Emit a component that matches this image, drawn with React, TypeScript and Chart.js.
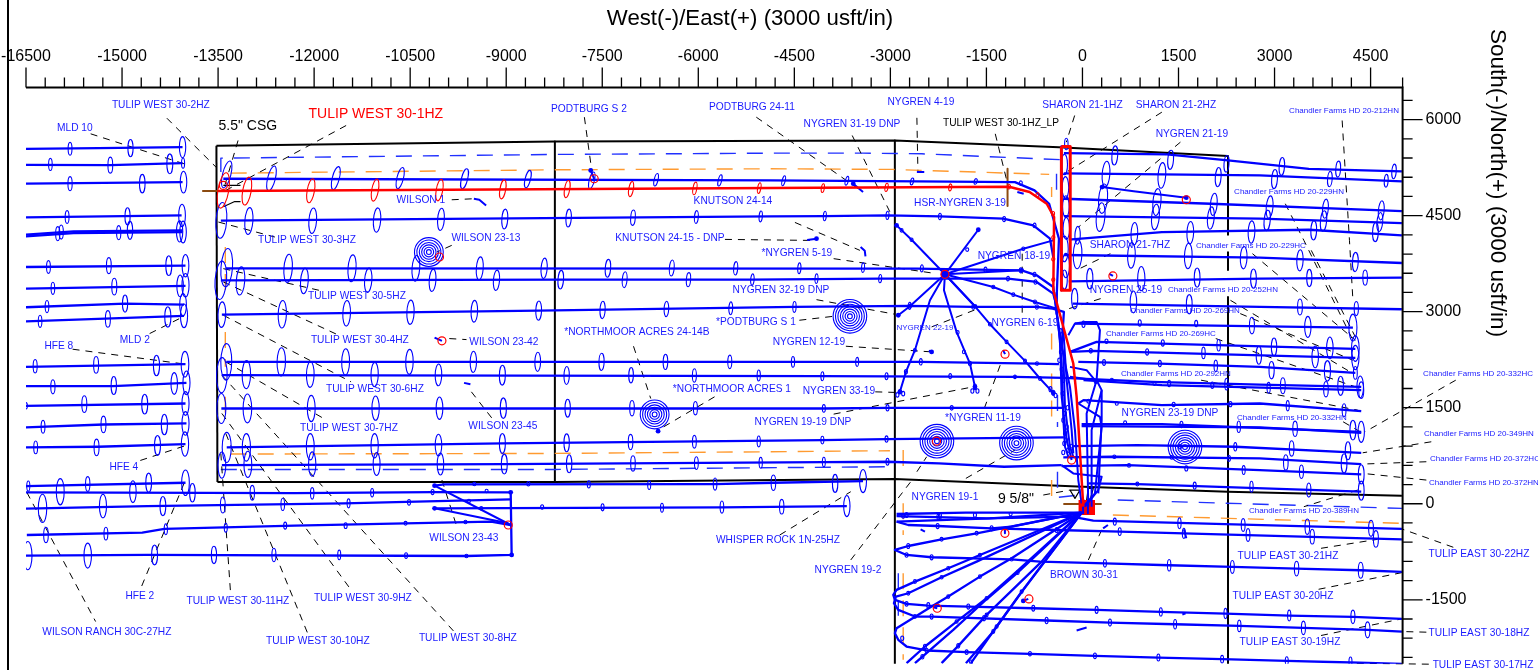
import React, { useEffect, useRef } from "react";
import { Chart, registerables } from "chart.js";
Chart.register(...registerables);

type P = [number, number];
type M = [number, number, number];

const xRange: P = [-16500, 5000];
const yRange: P = [-2500, 6500];
const tickStep = 300;
const labelStep = 1500;
const xTitle = "West(-)/East(+) (3000 usft/in)";
const yTitle = "South(-)/North(+) (3000 usft/in)";

// ---- offset wells west of the section
const mld1Path: P[] = [[-16502,5544],[-15375,5555],[-14055,5570]];
const mld1Marks: M[] = [[-15812,5544,200],[-14868,5554,270],[-14055,5570,330]];
const mld2Path: P[] = [[-16502,5294],[-15183,5289],[-14055,5320]];
const mld2Marks: M[] = [[-16119,5300,190],[-15183,5289,250],[-14254,5310,310],[-14047,5320,160]];
const mld3Path: P[] = [[-16502,5000],[-14055,5024]];
const mld3Marks: M[] = [[-15812,5000,220],[-14684,5000,290],[-14040,5024,340]];
const mld4Path: P[] = [[-16502,4473],[-14070,4504]];
const mld4Marks: M[] = [[-15858,4478,200],[-14914,4488,270],[-14063,4504,350]];
const mld5Path: P[] = [[-16502,4202],[-15758,4254],[-14055,4270]];
const mld5Marks: M[] = [[-15950,4244,220],[-15052,4234,220],[-14101,4254,330]];
const mld6Path: P[] = [[-16502,4176],[-15758,4228],[-14055,4244]];
const mld6Marks: M[] = [[-16004,4218,220],[-14876,4270,280],[-14047,4244,340]];
const mld7Path: P[] = [[-16502,3698],[-14009,3719]];
const mld7Marks: M[] = [[-16149,3698,200],[-15206,3719,250],[-14270,3719,310],[-14009,3719,350]];
const mld8Path: P[] = [[-16502,3360],[-14009,3402]];
const mld8Marks: M[] = [[-16080,3365,190],[-15121,3391,260],[-14093,3402,340],[-14009,3412,370]];
const mld9Path: P[] = [[-16502,3069],[-14953,3126],[-14032,3110]];
const mld9Marks: M[] = [[-16172,3079,190],[-14953,3126,270],[-14047,3110,350]];
const mld10Path: P[] = [[-16502,2850],[-15375,2887],[-14032,2934]];
const mld10Marks: M[] = [[-16280,2850,190],[-15221,2887,260],[-14285,2918,320],[-14032,2934,370]];
const hfe1Path: P[] = [[-16502,2138],[-14009,2180]];
const hfe1Marks: M[] = [[-16357,2148,210],[-15405,2169,260],[-14462,2159,320],[-14017,2180,400]];
const hfe2Path: P[] = [[-16502,1836],[-15144,1836],[-13994,1888]];
const hfe2Marks: M[] = [[-16080,1826,220],[-15129,1847,280],[-14185,1878,340],[-13994,1888,370]];
const hfe3Path: P[] = [[-16502,1530],[-14009,1566]];
const hfe3Marks: M[] = [[-16502,1530,100],[-15589,1556,260],[-14646,1556,310],[-14009,1566,370]];
const hfe4Path: P[] = [[-16502,1192],[-15290,1238],[-13994,1254]];
const hfe4Marks: M[] = [[-16234,1202,200],[-15290,1238,260],[-14339,1238,320],[-14009,1254,370]];
const hfe5Path: P[] = [[-16502,880],[-15375,890],[-14009,932]];
const hfe5Marks: M[] = [[-16349,880,200],[-15398,880,260],[-14446,911,310],[-14017,932,380]];
const hfe6Path: P[] = [[-16502,276],[-14009,328]];
const hfe6Marks: M[] = [[-16464,276,160],[-15536,308,230],[-14584,328,300],[-14009,328,400]];

// ---- section-30 south group and Wilson 23-43 and Whisper Rock
const tw8Path: P[] = [[-16502,178],[-12306,167],[-10150,183],[-8930,178]];
const tw8Marks: M[] = [[-15965,188,410],[-14830,188,340],[-13901,172,290],[-12966,172,230],[-12030,162,180],[-11094,172,130],[-10150,183,80],[-9306,198,40]];
const tw9Path: P[] = [[-16502,-77],[-14607,-36],[-11538,6],[-8930,68]];
const tw9Marks: M[] = [[-16242,-72,440],[-15298,-36,370],[-14362,-36,300],[-13426,-20,250],[-12490,-10,190],[-11462,6,140],[-10518,22,90],[-9582,42,40]];
const tw10Path: P[] = [[-16487,-488],[-14684,-452],[-14339,-394],[-12306,-342],[-9237,-280],[-8930,-332]];
const tw10Marks: M[] = [[-16188,-488,240],[-15252,-467,200],[-14316,-400,170],[-13380,-374,140],[-12452,-342,110],[-11508,-342,90],[-10572,-306,60],[-9636,-285,30]];
const tw11Path: P[] = [[-16502,-810],[-14607,-800],[-9621,-816],[-8915,-800],[-8930,188]];
const tw11Marks: M[] = [[-16472,-810,440],[-15536,-810,390],[-14492,-800,310],[-13564,-800,270],[-12628,-800,210],[-11608,-800,150],[-10564,-810,90],[-9621,-816,30]];
const wilson43A: P[] = [[-8930,-332],[-10119,282]];
const wilson43B: P[] = [[-8968,-306],[-10119,-72]];
const whisperAPath: P[] = [[-10119,282],[-9966,302],[-5738,308],[-4827,328],[-3427,354]];
const whisperAMarks: M[] = [[-9498,308,40],[-8654,313,70],[-7710,302,110],[-6767,292,140],[-5738,308,190],[-4827,328,240],[-3863,318,280],[-3427,354,360]];
const whisperBPath: P[] = [[-10119,-72],[-5631,-56],[-3680,-36]];
const whisperBMarks: M[] = [[-9390,-72,40],[-8439,-51,70],[-7495,-56,110],[-6567,-62,140],[-5631,-51,190],[-4697,-46,230],[-3680,-36,330]];

// ---- subject well
const tw1Path: P[] = [[-13495,4884],[-4879,4930],[-1147,4951],[-826,4868],[-558,4686],[-443,4478],[-455,3334],[-143,2190],[-91,1670],[13,-46]];
const tw1Marks: M[] = [[-13418,4894,560],[-13050,4884,440],[-12052,4889,380],[-11048,4899,350],[-10042,4899,340],[-9053,4910,300],[-8048,4915,270],[-7050,4915,240],[-6053,4925,200],[-5048,4930,170],[-4055,4930,140],[-3060,4941,130],[-2065,4941,110],[-1147,4951,70],[-703,4826,70],[-459,4530,70],[-456,4160,60],[-456,3820,60],[-456,3500,60]];
const sharon1Red: P[] = [[-329,5580],[-191,5580],[-191,3334],[-329,3334],[-329,5580]];
const sharon1Path: P[] = [[-329,5580],[-329,3334]];
const sharon1Marks: M[] = [[-252,5620,180],[-282,5300,320],[-266,4940,340],[-259,4640,340],[-252,4300,340],[-282,3980,400],[-259,3720,380],[-282,3500,300]];

// ---- Tulip West laterals
const tw2Path: P[] = [[-13418,5076],[-4879,5050],[-2586,5034],[-1055,5024],[-749,4894],[-520,4686],[-367,4140],[-400,3300],[-403,2970]];
const tw2Marks: M[] = [[-13365,5144,430],[-12666,5081,400],[-11661,5086,370],[-10656,5086,340],[-9651,5076,320],[-8662,5071,280],[-7664,5050,270],[-6659,5060,200],[-5662,5050,180],[-4667,5045,160],[-3680,5045,140],[-2662,5034,110],[-1668,5034,90],[-964,5008,70]];
const tw3Path: P[] = [[-13457,4421],[-4879,4488],[-4024,4494],[-3045,4504],[-2226,4488],[-1237,4452],[-768,4348],[-507,4140],[-456,3854]];
const tw3Marks: M[] = [[-13449,4426,560],[-13019,4416,420],[-12022,4421,400],[-11017,4431,380],[-10019,4442,350],[-9022,4447,310],[-8025,4462,280],[-7020,4468,240],[-6030,4478,200],[-5025,4488,170],[-4024,4494,150],[-3045,4504,130],[-2226,4488,100],[-1224,4447,80],[-749,4348,70]];
const tw5Path: P[] = [[-13380,3677],[-2586,3672],[-950,3646],[-716,3568],[-456,3386],[-377,2814]];
const tw5Marks: M[] = [[-13365,3688,600],[-12406,3677,440],[-11408,3677,420],[-10411,3677,400],[-9413,3677,360],[-8408,3677,320],[-7411,3677,280],[-6414,3682,250],[-5416,3677,210],[-4422,3677,170],[-3427,3688,150],[-2509,3677,110],[-1515,3656,80],[-964,3646,80],[-749,3580,70]];
const tw4Path: P[] = [[-13457,3490],[-8148,3500],[-5155,3500],[-3159,3516],[-1163,3516],[-716,3464],[-456,3282],[-429,3178]];
const tw4Marks: M[] = [[-13457,3490,600],[-13150,3480,440],[-12152,3480,400],[-11155,3490,380],[-10150,3490,350],[-9152,3490,320],[-8148,3500,290],[-7150,3500,250],[-6153,3500,220],[-5155,3500,180],[-4154,3516,150],[-3159,3516,130],[-1163,3516,70],[-734,3464,70]];
const twCPath: P[] = [[-13441,2954],[-8493,3017],[-4498,3074],[-2700,3090],[-1706,3074],[-711,3074],[-466,3048],[-290,2996],[-325,2450]];
const twCMarks: M[] = [[-13441,2954,400],[-12497,2960,430],[-11492,2975,400],[-10495,2991,380],[-9498,3006,340],[-8493,3017,300],[-7495,3027,270],[-6498,3043,240],[-5493,3053,200],[-4498,3074,170],[-2700,3090,110],[-1706,3074,70],[-711,3074,70]];
const tw6Path: P[] = [[-13372,2216],[-5508,2216],[-2525,2216],[-711,2190],[-367,2180]];
const tw6Marks: M[] = [[-13372,2216,570],[-12513,2216,440],[-11508,2216,410],[-10511,2216,390],[-9513,2216,330],[-8508,2216,300],[-7511,2216,270],[-6513,2216,240],[-5508,2216,210],[-4521,2216,170],[-3519,2216,140],[-2525,2216,100],[-711,2190,40]];
const twEPath: P[] = [[-13441,2008],[-4062,1992],[-1055,1982],[-290,1966]];
const twEMarks: M[] = [[-13441,2008,550],[-13058,2018,440],[-12060,2018,400],[-11055,2018,380],[-10058,2013,340],[-9060,2008,310],[-8056,2003,280],[-7050,2008,240],[-6061,2003,210],[-5056,2003,170],[-4062,1992,140],[-3060,1992,110],[-2065,1992,80],[-1055,1982,40]];
const tw7Path: P[] = [[-13449,1488],[-4039,1488],[-3045,1498],[-1055,1498],[-290,1498]];
const tw7Marks: M[] = [[-13449,1488,470],[-13042,1488,450],[-12045,1488,410],[-11040,1493,380],[-10042,1493,350],[-9045,1493,320],[-8040,1493,280],[-7035,1493,240],[-6045,1493,210],[-4039,1488,120],[-3045,1498,100],[-2042,1498,70]];
const twGPath: P[] = [[-13365,880],[-9060,942],[-4062,994],[-3060,1010],[-290,1036]];
const twGMarks: M[] = [[-13365,880,470],[-13058,880,430],[-12060,890,410],[-11055,906,380],[-10058,916,340],[-9060,942,310],[-8056,952,280],[-7058,963,240],[-6061,968,200],[-5056,973,170],[-4062,994,120],[-3060,1010,100]];
const twHPath: P[] = [[-13441,604],[-9030,620],[-4039,651],[-3045,656],[-2241,630],[-1224,578],[-325,604]];
const twHMarks: M[] = [[-13441,604,410],[-13035,614,410],[-12030,620,380],[-11024,620,360],[-10027,620,340],[-9030,620,310],[-8017,625,280],[-7020,630,240],[-6030,635,200],[-5025,640,170],[-4039,651,150],[-3045,656,110]];

// ---- Chandler Farms and Sharon laterals to the east
const e1Path: P[] = [[-290,5476],[1316,5456],[2273,5362],[3535,5232],[4989,5190]];
const e1Marks: M[] = [[505,5440,300],[1377,5372,300],[2250,5310,260],[3114,5268,280],[3994,5227,250],[4866,5190,230]];
const e2Path: P[] = [[-290,5159],[2770,5128],[4989,5034]];
const e2Marks: M[] = [[368,5149,400],[1240,5128,400],[2120,5102,300],[3000,5071,300],[3864,5071,240],[4744,5045,200]];
const e3Path: P[] = [[-290,4764],[2005,4686],[4989,4572]];
const e3Marks: M[] = [[322,4764,460],[1163,4712,420],[2051,4676,350],[2923,4634,350],[3795,4608,300],[4667,4582,300]];
const e4Path: P[] = [[-290,4494],[2770,4452],[4989,4384]];
const e4Marks: M[] = [[283,4478,450],[1140,4478,400],[2005,4462,350],[2885,4426,320],[3765,4416,320],[4644,4400,300]];
const e5Path: P[] = [[-214,4124],[1240,4244],[3535,4280],[4989,4192]];
const e5Marks: M[] = [[-76,4192,280],[811,4218,350],[1684,4234,350],[2640,4244,350],[3612,4270,300],[4576,4244,300]];
const e6Path: P[] = [[-290,3885],[2770,3844],[4989,3760]];
const e6Marks: M[] = [[-76,3896,450],[765,3880,400],[1653,3870,400],[2518,3844,350],[3397,3802,330],[4262,3776,300]];
const e7Path: P[] = [[-214,3474],[2770,3516],[4989,3532]];
const e7Marks: M[] = [[115,3516,320],[919,3516,380],[1791,3532,300],[2671,3516,300],[3543,3526,270],[4415,3532,240]];
const e8Path: P[] = [[-153,3126],[2770,3074],[4989,3038]];
const e8Marks: M[] = [[-122,3204,320],[796,3152,340],[1668,3116,300],[3397,3074,250],[4277,3048,220]];
const e9Path: P[] = [[-117,2814],[4224,2752]];
const e9Marks: M[] = [[16,2804,100],[895,2824,100],[1776,2814,100],[2647,2783,260],[3520,2762,330],[4224,2752,420]];
const e10Path: P[] = [[-195,2372],[221,2528],[4262,2419]];
const e10Marks: M[] = [[375,2538,70],[1255,2512,100],[2127,2476,180],[2992,2450,280],[3864,2434,340],[4262,2424,400]];
const e11Path: P[] = [[-195,2372],[169,2388],[4262,2278]];
const e11Marks: M[] = [[131,2388,70],[1010,2372,100],[1890,2356,180],[2755,2320,280],[3635,2294,340],[4262,2284,380]];
const e12Path: P[] = [[-65,2216],[1202,2190],[2770,2138],[4262,2044]];
const e12Marks: M[] = [[337,2206,90],[1209,2190,100],[2082,2154,180],[2954,2086,270],[3826,2076,320],[4262,2044,200]];
const e13Path: P[] = [[-290,1966],[1087,1904],[2770,1862],[4354,1826]];
const e13Marks: M[] = [[459,1930,60],[1354,1878,100],[2250,1868,180],[3130,1842,250],[4032,1842,300],[4338,1826,340]];
const e14Path: P[] = [[16,1930],[1240,1852],[4354,1774]];
const e14Marks: M[] = [[207,1904,60],[1125,1878,60],[2028,1852,100],[2908,1810,170],[3803,1790,240],[4354,1774,260]];
const e15Path: P[] = [[-65,1566],[16,1618],[1240,1540],[2770,1566],[4354,1446]];
const e15Marks: M[] = [[92,1602,60],[536,1566,50],[1424,1550,70],[2311,1556,80],[3206,1530,160],[4086,1462,200]];
const e16Path: P[] = [[-13,1244],[1240,1244],[4354,1124]];
const e16Marks: M[] = [[666,1264,60],[1546,1238,100],[2441,1202,180],[3321,1170,240],[4224,1150,310],[4354,1124,330]];
const e16bPath: P[] = [[-13,1212],[2770,1192],[4354,1108]];
const e17Path: P[] = [[-143,900],[857,916],[2387,890],[4354,796]];
const e17Marks: M[] = [[1523,890,70],[2387,890,130],[3267,864,240],[4147,828,280]];
const e18Path: P[] = [[-299,724],[475,734],[2770,708],[4354,620]];
const e18Marks: M[] = [[498,734,50],[1393,724,60],[2288,708,90],[3176,646,240],[4086,630,300]];
const e19Path: P[] = [[-325,588],[704,604],[2770,526],[4354,458]];
const e19Marks: M[] = [[727,599,50],[1622,552,80],[2518,526,140],[3420,500,210],[4354,458,300]];
const e20Path: P[] = [[91,318],[857,308],[4354,188]];
const e20Marks: M[] = [[857,308,60],[1753,282,110],[2640,266,170],[3535,214,220],[4354,204,300]];

// ---- curve-backs into the pad
const bundleWest1: P[] = [[-429,3178],[-351,2554],[-325,1670],[-247,994],[-169,682]];
const bundleWest2: P[] = [[-403,2970],[-299,2346],[-273,1514],[-195,890],[-143,734]];
const bundleWest3: P[] = [[-377,2814],[-325,2190],[-299,1306],[-273,890],[-221,734]];
const bundleWest4: P[] = [[-299,2710],[-247,1930],[-169,1150],[-143,786]];
const bundleWest5: P[] = [[-325,2450],[-195,1826],[-117,1150],[-65,370],[-13,6]];
const bundleEast1: P[] = [[-221,2632],[-117,2814],[39,2840],[221,2840],[273,2710],[221,1930],[65,1410],[91,-46]];
const bundleEast2: P[] = [[143,-46],[143,1150],[300,1774],[221,1930]];
const bundleEast3: P[] = [[247,162],[300,1306],[300,1774]];
const bundleEast4: P[] = [[-325,604],[-143,474],[300,422],[247,214],[39,-46]];
const bundleEast5: P[] = [[-65,1566],[273,1358],[300,1202],[195,162],[13,-46]];
const bundleEast6: P[] = [[-195,2138],[65,2086],[195,1930],[-195,1982]];
const bundleMarks: M[] = [[-336,2372,70],[-362,2242,70],[-299,1930,70],[-310,1722,70],[-273,1410,70],[-299,1306,70],[-258,994,70],[-284,942,70],[-221,838,70],[-325,2100,70],[-273,1100,70],[-232,1500,70],[-340,2700,70],[-300,800,70],[-170,900,60],[-245,1200,70]];

// ---- Tulip East and the section 30 fan south of the pad
const padHub: P = [-13,-140];
const s1Path: P[] = [[-2903,-192],[-1497,-228],[-169,-202],[169,-264],[475,-270],[4989,-394]];
const s1Marks: M[] = [[505,-280,110],[1515,-306,170],[2510,-332,200],[3512,-358,240],[4507,-384,250],[-2800,-190,70],[-2250,-205,90]];
const s2Path: P[] = [[-2903,-280],[-2721,-332],[-2262,-348],[-1419,-384],[-403,-410],[589,-436],[4989,-556]];
const s2Marks: M[] = [[582,-436,120],[1584,-462,160],[2586,-488,200],[3589,-514,230],[4583,-550,260],[-2262,-348,80],[-1419,-384,80],[-403,-410,80]];
const s3Path: P[] = [padHub,[-1653,-462],[-2200,-556],[-2721,-660],[-2929,-722],[-2747,-800],[-2356,-836],[-1106,-868],[-664,-904],[351,-930],[1354,-961],[2341,-987],[3344,-1013],[4346,-1039],[4989,-1065]];
const s3Marks: M[] = [[-2721,-660,80],[-2200,-556,60],[-1653,-462,60],[-2747,-800,70],[-2356,-836,80],[-1106,-868,50],[351,-930,120],[1354,-961,180],[2341,-987,200],[3344,-1013,230],[4346,-1039,250]];
const w1Path: P[] = [padHub,[-1821,-140],[-2903,-160]];
const w1Marks: M[] = [[-2747,-176,80],[-2226,-192,100],[-1679,-176,70],[-1122,-160,50]];
const w2Path: P[] = [padHub,[-1445,-228],[-2903,-280]];
const w2bPath: P[] = [padHub,[-1106,-358],[-1419,-384]];
const s4Path: P[] = [padHub,[-1601,-800],[-2096,-1008],[-2616,-1216],[-2903,-1346],[-2955,-1424],[-2929,-1502],[-2747,-1564],[-2408,-1590],[-1783,-1606],[-768,-1632],[221,-1658],[1224,-1689],[2234,-1715],[3229,-1746],[4224,-1767],[4989,-1798]];
const s4Marks: M[] = [[-2616,-1216,60],[-2096,-1008,50],[-1601,-800,50],[-2747,-1564,70],[-2408,-1590,90],[-1783,-1606,80],[-768,-1632,90],[221,-1658,110],[1224,-1689,130],[2234,-1715,160],[3229,-1746,170],[4224,-1767,210]];
const s5Path: P[] = [padHub,[-1653,-904],[-2200,-1148],[-2721,-1398],[-2913,-1450],[-2945,-1554],[-2877,-1658],[-2616,-1762],[-2356,-1762],[-560,-1824],[430,-1856],[1447,-1882],[2449,-1908],[3451,-1939],[4453,-1970],[4989,-1996]];
const s5Marks: M[] = [[-2721,-1398,60],[-2200,-1148,50],[-2616,-1762,60],[-2356,-1762,80],[-1537,-1788,80],[-560,-1824,100],[430,-1856,110],[1447,-1882,150],[2449,-1908,180],[3451,-1939,210],[4453,-1970,250]];
const s6Path: P[] = [padHub,[-1106,-852],[-1601,-1138],[-2096,-1450],[-2356,-1606],[-2903,-1944],[-2929,-2022],[-2877,-2126],[-2747,-2230],[-2434,-2292],[-1809,-2318],[-820,-2344],[195,-2376],[1186,-2402],[2181,-2428],[3191,-2454],[4186,-2480],[4989,-2500]];
const s6Marks: M[] = [[-1601,-1138,50],[-2096,-1450,50],[-2815,-2100,70],[-2434,-2292,70],[-1809,-2318,70],[-820,-2344,70],[195,-2376,90],[1186,-2402,110],[2181,-2428,120],[3191,-2454,130],[4186,-2464,140]];
const s7Path: P[] = [padHub,[-1028,-1060],[-1497,-1476],[-1966,-1840],[-2460,-2230],[-2747,-2490]];
const s7Marks: M[] = [[-1497,-1476,50],[-1966,-1840,50],[-2460,-2230,70]];
const s7bPath: P[] = [padHub,[-1013,-1076],[-1497,-1492],[-2018,-1970],[-2616,-2490]];
const s7bMarks: M[] = [[-2500,-2390,70],[-1013,-1076,50]];
const s8Path: P[] = [padHub,[-638,-904],[-1497,-1736],[-1940,-2220],[-2200,-2490]];
const s8Marks: M[] = [[-1497,-1736,50],[-1940,-2220,70]];
const s9Path: P[] = [padHub,[-950,-1372],[-1393,-1996],[-1820,-2490]];
const s9Marks: M[] = [[-950,-1372,50],[-1393,-1996,60]];
const s10Path: P[] = [padHub,[-924,-1346],[-1341,-1918],[-1742,-2490]];
const s10Marks: M[] = [[-1341,-1918,50],[-1740,-2470,60]];

// ---- Nygren star, all drilled from one location
const starHub: P = [-2148,3584];
const spokeA: P[] = [starHub,[-2695,3084],[-2877,2944]];
const spokeB: P[] = [starHub,[-2669,4124],[-2903,4348]];
const spokeC: P[] = [starHub,[-1627,4280]];
const spokeD: P[] = [starHub,[-924,3984],[-456,4114]];
const spokeE: P[] = [starHub,[-950,3646]];
const spokeF: P[] = [starHub,[-1679,3084]];
const spokeG: P[] = [starHub,[-1679,3084],[-1445,2804],[-1185,2528],[-898,2232],[-664,1956],[-456,1732]];
const spokeH: P[] = [starHub,[-2163,3334],[-1966,2684],[-1757,2190],[-1679,1826]];
const spokeI: P[] = [starHub,[-2382,3178],[-2617,2398],[-2757,2060],[-2851,1748]];
const spokeJ: P[] = [starHub,[-1393,3386],[-1080,3266],[-742,3152],[-403,3048]];
const spokeMarks: M[] = [[-2695,3084,60],[-2825,4270,50],[-2669,4124,50],[-1950,2674,60],[-1851,2372,60],[-1757,2190,70],[-2757,2060,70],[-2617,2398,50],[-2851,1748,70],[-2800,1720,70],[-2890,1700,70],[-1679,1826,90],[-1640,1760,70],[-1720,1760,70],[-1445,2804,50],[-1185,2528,50],[-898,2232,50],[-664,1956,60],[-500,1790,80],[-456,1732,80],[-420,1690,70],[-1393,3386,50],[-1080,3266,50],[-742,3152,60],[-924,3984,50],[-1800,3970,50]];

// ---- short vertical wells
const wellStubs: P[][] = [
  [[-9505,4764],[-9420,4750],[-9314,4660]],
  [[-10119,2596],[-10004,2544]],
  [[-9659,1888],[-9559,1867]],
  [[-7680,5206],[-7626,5076]],
  [[-3580,5000],[-3427,4868]],
  [[-2586,5180],[-2471,5180]],
  [[-1017,4868],[-918,4842]],
  [[306,4946],[800,4880],[1622,4780]],
  [[-4300,4120],[-4154,4140]],
  [[-3465,4010],[-3400,3950],[-3389,3864]],
  [[476,3558],[420,3590]],
  [[-2400,2390],[-2356,2372]],
  [[-1240,2400],[-1209,2336]],
  [[-1211,-390],[-1211,-462]],
  [[-2528,-400],[-2460,-436]],
  [[-2330,-1616],[-2268,-1632]],
  [[-91,-1980],[65,-1934]],
  [[1584,-400],[1622,-540]],
  [[1560,-1730],[1610,-1710]],
  [[322,-384],[398,-332]],
  [[-924,-1518],[-846,-1486]],
];
const endDots: P[] = [[-2877,2944],[-1679,1826],[-2851,1748],[-456,1732],[-1627,4280],[-2903,4348],[-6628,1134],[-7680,5206],[306,4946],[1622,4780],[-4154,4140],[-3580,5000],[-2356,2372],[-10119,282],[-10119,-72],[-8930,178],[-8915,-800],[-950,3646],[-1679,3084],[-924,-1518]];
const hubDots: P[] = [starHub];
const redRings: P[] = [[-13418,4972],[-7626,5076],[-10042,3854],[-10004,2544],[1622,4748],[475,3558],[-1209,2336],[-1211,-462],[-836,-1486],[-2268,-1632],[-8968,-332],[-169,682],[-2148,3584],[-2280,978]];

// ---- concentric spirals of vertical wells
const spiral1: P = [-10208,3931];
const spiral2: P = [-6682,1395];
const spiral3: P = [-3632,2928];
const spiral4: P = [-2273,978];
const spiral5: P = [-1031,947];
const spiral6: P = [1601,885];
const spirals: [P, number][] = [[spiral1,6],[spiral2,6],[spiral3,7],[spiral4,7],[spiral5,7],[spiral6,7]];

// ---- lease lines and hard lines
const leaseTop: P[] = [[-13526,5591],[-8240,5658],[-2930,5674],[-367,5570],[2273,5430]];
const leaseBottom: P[] = [[-13510,339],[-8240,339],[-2930,386],[16,266],[2273,188],[4989,126]];
const sectionLines: P[][] = [
  [[-13526,5591],[-13510,339]],
  [[-8240,5658],[-8240,339]],
  [[-2930,5674],[-2930,-2500]],
  [[2273,5430],[2273,4200]],
  [[2273,3930],[2273,3650]],
  [[2273,3230],[2273,-2500]],
];
const blueHard: P[][] = [
  [[-13457,5180],[-13457,5398],[-8240,5456],[-4879,5476],[-3427,5476],[-2509,5466],[-290,5372]],
  [[-13457,536],[-8240,536],[-2968,578]],
  [[551,58],[4989,-72]],
  [[-405,5154],[-405,4894]],
  [[-2876,-1086],[-2876,-1750]],
  [[-390,1700],[-390,1200]],
  [[-390,500],[-390,100],[-100,130]],
];
const orangeHard: P[][] = [
  [[-13303,5164],[-8240,5216],[-4879,5232],[-2968,5222],[-520,5144]],
  [[-13387,4010],[-13387,3282]],
  [[-13387,2684],[-13387,2138]],
  [[-13387,1670],[-13387,1410]],
  [[-13303,776],[-8240,786],[-4881,812],[-3007,828]],
  [[-2800,838],[-2800,474]],
  [[-482,2658],[-482,2294]],
  [[-482,2034],[-482,1358]],
  [[-482,370],[-482,32]],
  [[-482,4946],[-482,4790]],
  [[475,-176],[4989,-306]],
  [[-2800,6],[-2800,-488]],
  [[-2800,-1086],[-2800,-2438]],
];
const brownLines: P[][] = [
  [[-13748,4884],[-13303,4884]],
  [[-1170,5232],[-1170,4650]],
  [[-299,-4],[300,-4]],
  [[16,58],[16,-98]],
];
const padBlock: P[] = [[-61,-59],[196,-59]];
const padBlue: P[][] = [[[10,60],[10,-150]],[[85,60],[85,-150]]];
const calloutMarks: P[][] = [
  [[-13418,4972],[-13150,4972]],
  [[-13418,4640],[-13240,4720],[-13150,4720]],
  [[-195,214],[-117,84],[-39,214],[-195,214]],
  [[65,58],[91,240],[169,240],[91,-46]],
];
const leaders: P[][] = [
  [[-14300,6022],[-13533,5258]],[[-15490,5778],[-14032,5310]],[[-13188,5674],[-13418,4894]],[[-11500,5908],[-13380,4894]],
  [[-7779,6038],[-7664,5206]],[[-5094,6038],[-3466,4894]],[[-3596,5752],[-2968,4478]],[[-2586,6028],[-2570,5206]],
  [[-1362,5778],[-1170,5000]],[[-122,6064],[-252,5648]],[[1240,6116],[-290,5154]],[[1530,5648],[-61,4322]],
  [[4056,5986],[4170,4114],[4224,3178]],[[3168,4686],[3458,4114],[4224,2554]],[[-9851,4748],[-9505,4764]],
  [[-13495,4400],[-12613,4166]],[[-9851,4036],[-10081,3932]],[[-4491,4394],[-3476,3958]],[[-5584,4129],[-4225,4113]],
  [[-3886,3828],[-2280,3594]],[[-13418,3672],[-11922,3334]],[[-13418,3464],[-11615,2632]],[[-13418,2944],[-11423,1904]],
  [[-13380,2216],[-11807,1306]],[[-13441,2008],[-9812,-2000]],[[-13441,1410],[-11423,-1346]],[[-13380,1098],[-12091,-2048]],
  [[-13457,786],[-13303,-1424]],[[-16487,178],[-15413,-1840]],[[-14032,318],[-14707,-1320]],[[-14032,900],[-14776,656]],
  [[-15773,2414],[-14009,2180]],[[-14569,2658],[-14032,2928]],[[-9889,2580],[-9620,2564]],[[-9544,1748],[-9199,1306]],
  [[-10004,370],[-9758,-400]],[[-7012,2460],[-6743,1644]],[[-5746,1670],[-6628,1150]],[[-4422,2866],[-3886,2928]],
  [[-4154,3188],[-2930,2960]],[[-3695,2460],[-2356,2372]],[[-3236,1748],[-2892,1738]],[[-3886,1400],[-1706,1826]],
  [[-2356,2762],[-1629,3048]],[[-941,3906],[-941,2918]],[[436,3906],[-99,3646]],[[284,3204],[-290,3022]],
  [[-1285,2164],[-1553,1436]],[[2655,3906],[4262,2554]],[[3573,3958],[4262,2606]],[[2311,3178],[4224,2034]],
  [[2464,2970],[4224,2242]],[[2082,2580],[4262,1826]],[[1852,1930],[4300,1462]],[[4071,1280],[4338,1124]],
  [[5830,1930],[4415,1124]],[[5448,968],[4377,796]],[[5371,656],[4377,620]],[[5371,370],[4377,474]],
  [[4300,214],[3458,-46]],[[5792,-680],[4989,-394]],[[3726,-696],[4606,-556]],[[3688,-1336],[4989,-1076]],
  [[3726,-2058],[4989,-1798]],[[5371,-2006],[4989,-1996]],[[5409,-2506],[4224,-2490]],[[-4728,-488],[-3619,188]],
  [[-3619,-878],[-2662,370]],[[-2586,500],[-2433,734]],[[-1821,396],[-1055,838]],[[92,-878],[322,-358]],
  [[-612,136],[-195,214]],
];

// ---- well names
const wellLabels: [string, number, number][] = [
  ["TULIP WEST 30-2HZ",-14394,6220],["MLD 10",-15737,5861],["MLD 2",-14800,2554],["HFE 8",-15987,2460],["HFE 4",-14972,573],
  ["HFE 2",-14722,-1440],["WILSON RANCH 30C-27HZ",-15237,-2001],["TULIP WEST 30-11HZ",-13191,-1518],["TULIP WEST 30-10HZ",-11941,-2142],
  ["TULIP WEST 30-9HZ",-11239,-1471],["TULIP WEST 30-8HZ",-9599,-2095],["PODTBURG S 2",-7708,6157],["PODTBURG 24-11",-5162,6188],
  ["NYGREN 4-19",-2523,6267],["NYGREN 31-19 DNP",-3600,5923],["SHARON 21-1HZ",0,6224],["SHARON 21-2HZ",1460,6224],["NYGREN 21-19",1710,5767],
  ["WILSON 1",-10333,4738],["HSR-NYGREN 3-19",-1913,4691],["KNUTSON 24-14",-5459,4722],["TULIP WEST 30-3HZ",-12113,4114],["WILSON 23-13",-9317,4145],
  ["KNUTSON 24-15 - DNP",-6443,4145],["*NYGREN 5-19",-4460,3911],["SHARON 21-7HZ",742,4036],["NYGREN 18-19",-1070,3872],["TULIP WEST 30-5HZ",-11332,3240],
  ["NYGREN 32-19 DNP",-4709,3334],["NYGREN 25-19",679,3334],["*PODTBURG S 1",-5100,2835],["NYGREN 6-19",-898,2819],["*NORTHMOOR ACRES 24-14B",-6959,2679],
  ["TULIP WEST 30-4HZ",-11286,2554],["WILSON 23-42",-9036,2523],["NYGREN 12-19",-4272,2523],["TULIP WEST 30-6HZ",-11051,1789],["*NORTHMOOR ACRES 1",-5475,1789],
  ["NYGREN 33-19",-3803,1758],["TULIP WEST 30-7HZ",-11457,1181],["WILSON 23-45",-9052,1212],["NYGREN 19-19 DNP",-4366,1274],["NYGREN 23-19 DNP",1367,1415],
  ["*NYGREN 11-19",-1554,1337],["WHISPER ROCK 1N-25HZ",-4756,-566],["WILSON 23-43",-9661,-535],["NYGREN 19-1",-2148,105],["TULIP EAST 30-22HZ",6193,-785],
  ["TULIP EAST 30-21HZ",3210,-816],["NYGREN 19-2",-3663,-1034],["BROWN 30-31",23,-1112],["TULIP EAST 30-20HZ",3132,-1440],["TULIP EAST 30-18HZ",6193,-2017],
  ["TULIP EAST 30-19HZ",3241,-2157],["TULIP EAST 30-17HZ",6256,-2516],
];
const chandlerLabels: [string, number, number][] = [
  ["Chandler Farms HD 20-212HN",4085,6142],["Chandler Farms HD 20-229HN",3226,4878],["Chandler Farms HD 20-229HC",2632,4036],["Chandler Farms HD 20-252HN",2195,3349],
  ["Chandler Farms HD 20-269HN",1601,3006],["Chandler Farms HD 20-269HC",1226,2647],["Chandler Farms HD 20-292HN",1460,2023],["Chandler Farms HD 20-332HC",6178,2023],
  ["Chandler Farms HD 20-332HN",3272,1337],["Chandler Farms HD 20-349HN",6193,1087],["Chandler Farms HD 20-372HC",6287,697],["Chandler Farms HD 20-372HN",6271,323],
  ["Chandler Farms HD 20-389HN",3460,-114],["NYGREN 22-19",-2460,2741],
];
const subjectLabels: [string, number, number][] = [["TULIP WEST 30-1HZ",-11036,6079]];
const blackLabels: [string, number, number][] = [["5.5\" CSG",-13035,5892],["9 5/8\"",-1039,73]];
const smallBlackLabels: [string, number, number][] = [["TULIP WEST 30-1HZ_LP",-1273,5939]];

const BLUE = "#0000ff";
const RED = "#ff0000";
const FONT = '"Liberation Sans", Arial, sans-serif';

const blueWells: [P[], M[], number][] = [
  [mld1Path,mld1Marks,0],[mld2Path,mld2Marks,0],[mld3Path,mld3Marks,0],[mld4Path,mld4Marks,0],[mld5Path,mld5Marks,0],[mld6Path,mld6Marks,0],
  [mld7Path,mld7Marks,0],[mld8Path,mld8Marks,0],[mld9Path,mld9Marks,0],[mld10Path,mld10Marks,0],[hfe1Path,hfe1Marks,0],[hfe2Path,hfe2Marks,0],
  [hfe3Path,hfe3Marks,0],[hfe4Path,hfe4Marks,0],[hfe5Path,hfe5Marks,0],[hfe6Path,hfe6Marks,0],[tw8Path,tw8Marks,0],[tw9Path,tw9Marks,0],
  [tw10Path,tw10Marks,0],[tw11Path,tw11Marks,0],[whisperAPath,whisperAMarks,0],[whisperBPath,whisperBMarks,0],[sharon1Path,sharon1Marks,0],
  [tw2Path,tw2Marks,14],[tw3Path,tw3Marks,4],[tw5Path,tw5Marks,4],[tw4Path,tw4Marks,4],[twCPath,twCMarks,2],[tw6Path,tw6Marks,1],[twEPath,twEMarks,1],
  [tw7Path,tw7Marks,0],[twGPath,twGMarks,0],[twHPath,twHMarks,0],[e1Path,e1Marks,4],[e2Path,e2Marks,4],[e3Path,e3Marks,5],[e4Path,e4Marks,5],
  [e5Path,e5Marks,2],[e6Path,e6Marks,2],[e7Path,e7Marks,0],[e8Path,e8Marks,0],[e9Path,e9Marks,0],[e10Path,e10Marks,0],[e11Path,e11Marks,0],
  [e12Path,e12Marks,0],[e13Path,e13Marks,0],[e14Path,e14Marks,0],[e15Path,e15Marks,0],[e16Path,e16Marks,0],[e16bPath,[],0],[e17Path,e17Marks,0],
  [e18Path,e18Marks,0],[e19Path,e19Marks,0],[e20Path,e20Marks,0],[s1Path,s1Marks,0],[s2Path,s2Marks,0],[s3Path,s3Marks,0],[w1Path,w1Marks,0],
  [w2Path,[],0],[w2bPath,[],0],[s4Path,s4Marks,0],[s5Path,s5Marks,0],[s6Path,s6Marks,0],[s7Path,s7Marks,0],[s7bPath,s7bMarks,0],[s8Path,s8Marks,0],[s9Path,s9Marks,0],[s10Path,s10Marks,0],
];
const thinBlue: P[][] = [bundleWest1,bundleWest2,bundleWest3,bundleWest4,bundleWest5,bundleEast1,bundleEast2,bundleEast3,bundleEast4,bundleEast5,bundleEast6,spokeA,spokeB,spokeC,spokeD,spokeE,spokeF,spokeG,spokeH,spokeI,spokeJ,...wellStubs,wilson43A,wilson43B];

const xy = (p: P[]) => p.map(([x, y]) => ({ x, y }));
function line(p: P[], color: string, width: number, dash: number[] = [], clip = true): any {
  return { data: xy(p), showLine: true, borderColor: color, borderWidth: width, borderDash: dash, pointRadius: 0, tension: 0, clip: clip ? undefined : false, borderCapStyle: "butt", borderJoinStyle: "round" };
}
function marks(m: M[], tilt: number, color: string): any {
  return {
    data: m.map(([x, y, h]) => ({ x, y, h })),
    showLine: false,
    pointRadius: 0,
    ellipseMark: { tilt, color },
  };
}
function rings(c: P, n: number): any {
  return {
    data: Array.from({ length: n }, () => ({ x: c[0], y: c[1] })),
    showLine: false,
    pointStyle: "circle",
    pointRadius: Array.from({ length: n }, (_, i) => (i + 1) * 2.4),
    pointBorderColor: BLUE,
    pointBackgroundColor: "rgba(0,0,0,0)",
    pointBorderWidth: 1.1,
  };
}

function buildDatasets(): any[] {
  const ds: any[] = [];
  ds.push(line(tw1Path, RED, 2.5));
  ds.push(marks(tw1Marks, 10, RED));
  ds.push(line(sharon1Red, RED, 3));
  ds.push({ data: xy(redRings), showLine: false, pointStyle: "circle", pointRadius: 4, pointBorderColor: RED, pointBackgroundColor: "rgba(0,0,0,0)", pointBorderWidth: 1.2 });
  ds.push({ data: xy(endDots), showLine: false, pointStyle: "circle", pointRadius: 2.4, pointBorderColor: BLUE, pointBackgroundColor: BLUE, pointBorderWidth: 0 });
  ds.push({ data: xy(hubDots), showLine: false, pointStyle: "circle", pointRadius: 4, pointBorderColor: BLUE, pointBackgroundColor: BLUE, pointBorderWidth: 0 });
  for (const [p, m, t] of blueWells) {
    ds.push(line(p, BLUE, 2.3));
    if (m.length) ds.push(marks(m, t, BLUE));
  }
  ds.push(marks(spokeMarks, 0, BLUE));
  ds.push(marks(bundleMarks, 0, BLUE));
  for (const p of padBlue) ds.push(line(p, BLUE, 2));
  for (const p of thinBlue) ds.push(line(p, BLUE, 2));
  for (const [c, n] of spirals) ds.push(rings(c, n));
  ds.push(line(padBlock, RED, 15));
  for (const p of brownLines) ds.push(line(p, "#8b4a10", 2));
  for (const p of calloutMarks) ds.push(line(p, "#000000", 1.2));
  for (const p of leaders) ds.push(line(p, "#000000", 1, [7, 6], false));
  for (const p of blueHard) ds.push(line(p, "#2030ff", 1.4, [16, 11]));
  for (const p of orangeHard) ds.push(line(p, "#ff9a30", 1.4, [16, 11]));
  ds.push(line(leaseTop, "#000000", 2));
  ds.push(line(leaseBottom, "#000000", 2));
  for (const p of sectionLines) ds.push(line(p, "#000000", 2));
  return ds;
}

const drawingPlugin: any = {
  id: "wellDrawing",
  afterDatasetDraw(chart: any, args: any) {
    const ds = chart.data.datasets[args.index];
    if (!ds.ellipseMark) return;
    const { ctx, chartArea: a, scales } = chart;
    const perFt = Math.abs(scales.y.getPixelForValue(0) - scales.y.getPixelForValue(1));
    ctx.save();
    ctx.beginPath();
    ctx.rect(a.left, a.top, a.right - a.left, a.bottom - a.top);
    ctx.clip();
    ctx.strokeStyle = ds.ellipseMark.color;
    ctx.lineWidth = 1.1;
    args.meta.data.forEach((el: any, i: number) => {
      const h = Math.max(3.5, ds.data[i].h * perFt);
      const w = Math.max(3, h * 0.3);
      ctx.beginPath();
      ctx.ellipse(el.x, el.y, w / 2, h / 2, (ds.ellipseMark.tilt * Math.PI) / 180, 0, Math.PI * 2);
      ctx.stroke();
    });
    ctx.restore();
  },
  afterDatasetsDraw(chart: any) {
    const { ctx, scales, chartArea: a } = chart;
    const xs = scales.x, ys = scales.y;
    ctx.save();
    ctx.strokeStyle = "#000";
    // frame
    ctx.lineWidth = 2;
    ctx.beginPath();
    ctx.moveTo(8, 0); ctx.lineTo(8, 670);
    ctx.moveTo(a.left, a.top); ctx.lineTo(a.right, a.top); ctx.lineTo(a.right, a.bottom);
    ctx.stroke();
    // tick marks
    ctx.lineWidth = 1.3;
    ctx.beginPath();
    for (const t of xs.ticks) {
      const px = xs.getPixelForValue(t.value);
      const len = t.value % labelStep === 0 ? 20 : 10;
      ctx.moveTo(px, a.top); ctx.lineTo(px, a.top - len);
    }
    for (const t of ys.ticks) {
      const py = ys.getPixelForValue(t.value);
      const len = t.value % labelStep === 0 ? 20 : 10;
      ctx.moveTo(a.right, py); ctx.lineTo(a.right + len, py);
    }
    ctx.stroke();
    // titles
    ctx.fillStyle = "#000";
    ctx.textAlign = "center";
    ctx.textBaseline = "middle";
    ctx.font = `22.2px ${FONT}`;
    ctx.fillText(xTitle, 750, 19);
    ctx.save();
    ctx.translate(1497, 183);
    ctx.rotate(Math.PI / 2);
    ctx.font = `22.5px ${FONT}`;
    ctx.fillText(yTitle, 0, 0);
    ctx.restore();
    const put = (list: [string, number, number][], font: string, color: string) => {
      ctx.font = font;
      ctx.fillStyle = color;
      for (const [s, x, y] of list) ctx.fillText(s, xs.getPixelForValue(x), ys.getPixelForValue(y));
    };
    put(wellLabels, `10.2px ${FONT}`, "#1a1aff");
    put(chandlerLabels, `8px ${FONT}`, "#1a1aff");
    put(subjectLabels, `14px ${FONT}`, "#ff0000");
    put(blackLabels, `14px ${FONT}`, "#000");
    put(smallBlackLabels, `10.2px ${FONT}`, "#000");
    ctx.restore();
  },
};

export default function App() {
  const ref = useRef<HTMLCanvasElement>(null);
  useEffect(() => {
    const chart = new Chart(ref.current!, {
      type: "scatter",
      data: { datasets: buildDatasets() },
      plugins: [drawingPlugin],
      options: {
        animation: false,
        responsive: false,
        devicePixelRatio: 1,
        layout: { autoPadding: false, padding: { left: 26, top: 27.6, right: 15.4, bottom: 6.2 } },
        plugins: { legend: { display: false }, tooltip: { enabled: false } },
        scales: {
          x: {
            type: "linear",
            position: "top",
            min: xRange[0],
            max: xRange[1],
            grid: { display: false, drawTicks: false },
            border: { display: false },
            afterFit: (s: any) => { s.height = 60; s.paddingLeft = 0; s.paddingRight = 0; },
            ticks: {
              stepSize: tickStep,
              autoSkip: false,
              maxRotation: 0,
              padding: 21,
              color: "#000",
              font: { family: "Liberation Sans", size: 16 },
              callback: (v: any) => (v % labelStep === 0 ? String(v) : ""),
            },
          },
          y: {
            type: "linear",
            position: "right",
            min: yRange[0],
            max: yRange[1],
            grid: { display: false, drawTicks: false },
            border: { display: false },
            afterFit: (s: any) => { s.width = 120; s.paddingTop = 0; s.paddingBottom = 0; },
            afterBuildTicks: (s: any) => {
              const out: any[] = [];
              for (let v = -2400; v <= yRange[1]; v += tickStep) out.push({ value: v });
              s.ticks = out;
            },
            ticks: {
              autoSkip: false,
              padding: 23,
              color: "#000",
              font: { family: "Liberation Sans", size: 16 },
              callback: (v: any) => (v % labelStep === 0 ? String(v) : ""),
            },
          },
        },
      } as any,
    });
    return () => chart.destroy();
  }, []);
  return (
    <div style={{ position: "fixed", left: 0, top: 0, width: 1538, height: 670, background: "#fff" }}>
      <canvas ref={ref} width={1538} height={670} style={{ display: "block" }} />
    </div>
  );
}
